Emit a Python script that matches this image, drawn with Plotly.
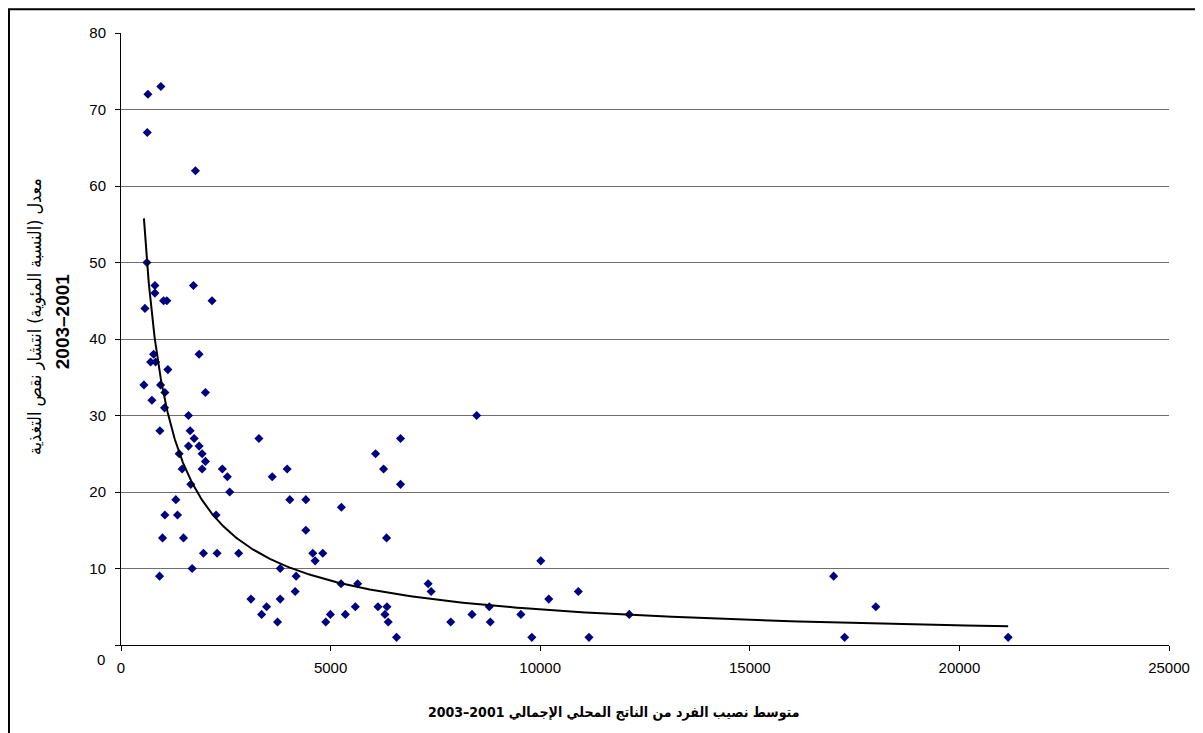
import numpy as np
import plotly.graph_objects as go

# Per-capita GDP (x) and prevalence of undernourishment % (y)
gdp = [951, 642, 627, 1776, 618, 809, 809, 1015, 1094, 571,
       1729, 2172, 1863, 778, 706, 825, 1118, 547, 944, 1047,
       2014, 737, 1039, 1610, 928, 1649, 1745, 3290, 1610, 1863,
       1388, 1935, 2014, 1459, 1935, 2418, 2537, 3607, 3964, 1665,
       2593, 4027, 1308, 1047, 1348, 2268, 991, 1491, 1967, 2292,
       2807, 1697, 3798, 920, 4178, 4409, 4409, 5257, 6073, 6668,
       6264, 6668, 6335, 4575, 4813, 4631, 4155, 3100, 3798, 3473,
       3354, 3734, 5249, 5646, 4885, 4995, 5352, 5590, 6130, 6344,
       6296, 6375, 6573, 7327, 7398, 7866, 8373, 8484, 10014, 10910,
       10205, 8785, 8809, 9539, 9800, 11164, 12124, 17000, 18006, 17262,
       21163]
undernourish = [73, 72, 67, 62, 50, 47, 46, 45, 45, 44,
                47, 45, 38, 38, 37, 37, 36, 34, 34, 33,
                33, 32, 31, 30, 28, 28, 27, 27, 26, 26,
                25, 25, 24, 23, 23, 23, 22, 22, 23, 21,
                20, 19, 19, 17, 17, 17, 14, 14, 12, 12,
                12, 10, 10, 9, 9, 19, 15, 18, 25, 27,
                23, 21, 14, 12, 12, 11, 7, 6, 6, 5,
                4, 3, 8, 8, 3, 4, 4, 5, 5, 5,
                4, 3, 1, 8, 7, 3, 4, 30, 11, 7,
                6, 5, 3, 4, 1, 1, 4, 9, 5, 1,
                1]

# Power trend line y = A * x^(-B), parameters
TREND_A = 12230.0
TREND_B = 0.855

y_ticks = [0, 10, 20, 30, 40, 50, 60, 70, 80]
y_ticktext = ["", "10", "20", "30", "40", "50", "60", "70", "80"]
x_ticks = [0, 5000, 10000, 15000, 20000, 25000]
x_ticktext = ["0", "5000", "10000", "15000", "20000", "25000"]

x_title = "2003–2001 متوسط نصيب الفرد من الناتج المحلي الإجمالي"
y_title_1 = "معدل (النسبة المئوية) انتشار نقص التغذية"
y_title_2 = "2003–2001"

tx = np.geomspace(min(gdp), max(gdp), 300)
ty = TREND_A * tx ** (-TREND_B)

fig = go.Figure()
fig.add_trace(go.Scatter(
    x=gdp, y=undernourish, mode="markers",
    marker=dict(symbol="diamond", size=7, color="#000080", line=dict(width=0)),
    showlegend=False, hoverinfo="x+y"))
fig.add_trace(go.Scatter(
    x=tx, y=ty, mode="lines", line=dict(color="black", width=2),
    showlegend=False, hoverinfo="skip"))

tick_font = dict(family="Liberation Sans, Arial, sans-serif", size=15, color="black")
arabic_font = "DejaVu Sans Condensed, DejaVu Sans, sans-serif"

fig.update_layout(
    width=1195, height=725,
    margin=dict(l=113, r=34, t=25, b=88),
    paper_bgcolor="white", plot_bgcolor="white",
    xaxis=dict(range=[0, 25000], tickvals=x_ticks, ticktext=x_ticktext,
               showgrid=False, zeroline=False,
               showline=True, linecolor="black", linewidth=1,
               ticks="outside", ticklen=5, tickcolor="black",
               tickfont=tick_font, ticklabelstandoff=4),
    yaxis=dict(range=[0, 80], tickvals=y_ticks, ticktext=y_ticktext,
               showgrid=True, gridcolor="#6e6e6e", gridwidth=1, zeroline=False,
               showline=True, linecolor="black", linewidth=1,
               ticks="outside", ticklen=5, tickcolor="black",
               tickfont=tick_font, ticklabelstandoff=6),
    annotations=[
        dict(text=x_title, xref="paper", yref="paper", x=0.470, y=-0.1095,
             xanchor="center", yanchor="middle", showarrow=False,
             font=dict(family=arabic_font, size=14, color="black", weight="bold")),
        dict(text=y_title_1, xref="paper", yref="paper", x=-0.0821, y=0.5376,
             xanchor="center", yanchor="middle", showarrow=False, textangle=-90,
             font=dict(family=arabic_font, size=17.8, color="black")),
        dict(text=y_title_2, xref="paper", yref="paper", x=-0.0563, y=0.529,
             xanchor="center", yanchor="middle", showarrow=False, textangle=-90,
             font=dict(family="Liberation Sans, Arial, sans-serif", size=19,
                       color="black", weight="bold")),
        dict(text="0", xref="paper", yref="paper", x=-0.019, y=-0.0245,
             xanchor="center", yanchor="middle", showarrow=False,
             font=tick_font),
    ],
    shapes=[
        dict(type="rect", xref="paper", yref="paper", x0=-0.1069, x1=1.2,
             y0=-0.3, y1=1.039, line=dict(color="black", width=2),
             fillcolor="rgba(0,0,0,0)", layer="above"),
    ],
)

fig.write_html("out.html")
